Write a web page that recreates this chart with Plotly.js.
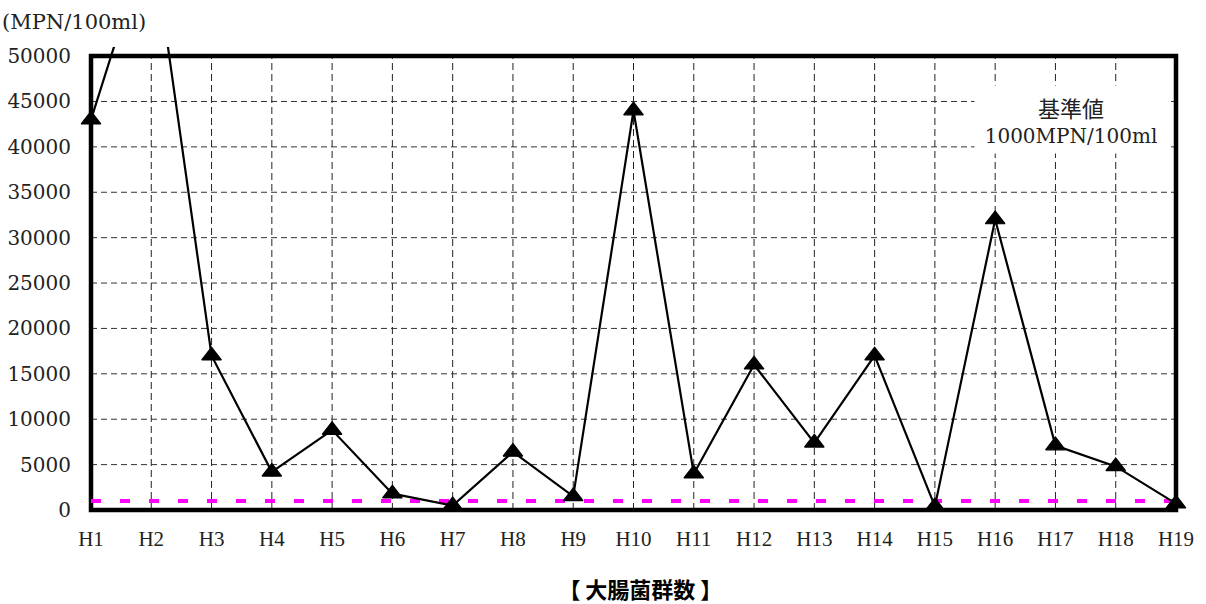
<!DOCTYPE html>
<html>
<head>
<meta charset="utf-8">
<script src="https://cdn.plot.ly/plotly-3.0.1.min.js"></script>
<style>
  html, body { margin: 0; padding: 0; background: #fff; }
  #chart { width: 1206px; height: 604px; }
</style>
</head>
<body>
<div id="chart"></div>
<script>
// Coliform counts (MPN/100ml) by survey year
const categories = ['H1', 'H2', 'H3', 'H4', 'H5', 'H6', 'H7', 'H8', 'H9', 'H10',
                    'H11', 'H12', 'H13', 'H14', 'H15', 'H16', 'H17', 'H18', 'H19'];
const counts = [43000, 64000, 17000, 4200, 8800, 1800, 500, 6400, 1500, 44000,
                4000, 16000, 7400, 17000, 400, 32000, 7100, 4800, 700];
const STANDARD = 1000;   // reference value, MPN/100ml
const yTicks = [0, 5000, 10000, 15000, 20000, 25000, 30000, 35000, 40000, 45000, 50000];
const yMax = 50000;

const serif = '"DejaVu Serif", "Liberation Serif", serif';
const serifX = '"Liberation Serif", "DejaVu Serif", serif';
const cjk = '"Noto Sans CJK JP", "Noto Sans", sans-serif';

// small padding around the frame so its heavy border is not clipped
const xPad = 0.0664;
const yPadLow = -441;
const yTop = 51000;

const traces = [
  {
    type: 'scatter',
    mode: 'lines',
    x: categories,
    y: categories.map(() => STANDARD),
    line: { color: '#ff00ff', width: 4, dash: '10px,19px' },
    hoverinfo: 'skip',
    showlegend: false
  },
  {
    type: 'scatter',
    mode: 'lines+markers',
    x: categories,
    y: counts,
    line: { color: '#000', width: 2.2 },
    marker: { symbol: 'triangle-up', size: 17, color: '#000', line: { color: '#000', width: 1.2 } },
    cliponaxis: false,
    showlegend: false
  }
];

// dashed grid, kept inside the frame
const shapes = categories.slice(1, -1).map(c => ({
  type: 'line', xref: 'x', yref: 'y', layer: 'between',
  x0: c, x1: c, y0: 0, y1: yMax,
  line: { color: '#222', width: 1, dash: '7px,4px' }
}));
yTicks.slice(1, -1).forEach(v => shapes.push({
  type: 'line', xref: 'x', yref: 'y', layer: 'between',
  x0: categories[0], x1: categories[categories.length - 1], y0: v, y1: v,
  line: { color: '#333', width: 1, dash: '6px,4px' }
}));
// heavy plot frame
shapes.push({
  type: 'rect', xref: 'x', yref: 'y', layer: 'between',
  x0: categories[0], x1: categories[categories.length - 1], y0: 0, y1: yMax,
  line: { color: '#000', width: 4.5 }, fillcolor: 'rgba(0,0,0,0)'
});

const layout = {
  width: 1206,
  height: 604,
  margin: { l: 87, r: 26, t: 47, b: 90 },
  paper_bgcolor: '#fff',
  plot_bgcolor: '#fff',
  title: {
    text: '<b>【 大腸菌群数 】</b>',
    font: { family: cjk, size: 22, color: '#000' },
    xref: 'container', yref: 'container',
    x: 0.531, y: 0.022, xanchor: 'center', yanchor: 'middle'
  },
  xaxis: {
    type: 'category',
    range: [-xPad, categories.length - 1 + xPad],
    showgrid: false,
    zeroline: false,
    showline: false,
    ticks: '',
    ticklabelstandoff: 10,
    tickfont: { family: serifX, size: 21, color: '#222' },
    fixedrange: true
  },
  yaxis: {
    range: [yPadLow, yTop],
    tickvals: yTicks,
    ticktext: yTicks.map(String),
    showgrid: false,
    zeroline: false,
    showline: false,
    ticks: '',
    ticklabelstandoff: 15,
    tickfont: { family: serif, size: 20, color: '#222' },
    fixedrange: true
  },
  shapes: shapes,
  annotations: [
    {
      xref: 'paper', yref: 'paper',
      x: -0.0796, y: 1.054, xanchor: 'left', yanchor: 'middle',
      text: '(MPN/100ml)', showarrow: false,
      font: { family: serif, size: 21, color: '#222' }
    },
    {
      xref: 'paper', yref: 'paper',
      x: 0.9005, y: 0.845, xanchor: 'center', yanchor: 'middle',
      text: '<span style="font-family:' + cjk.replace(/"/g, "'") + ';font-size:22px">基準値</span><br>1000MPN/100ml',
      showarrow: false,
      bgcolor: '#fff', borderpad: 0,
      width: 192, height: 67,
      font: { family: serif, size: 20, color: '#222' }
    }
  ]
};

Plotly.newPlot('chart', traces, layout, { staticPlot: true, displayModeBar: false });
</script>
</body>
</html>
